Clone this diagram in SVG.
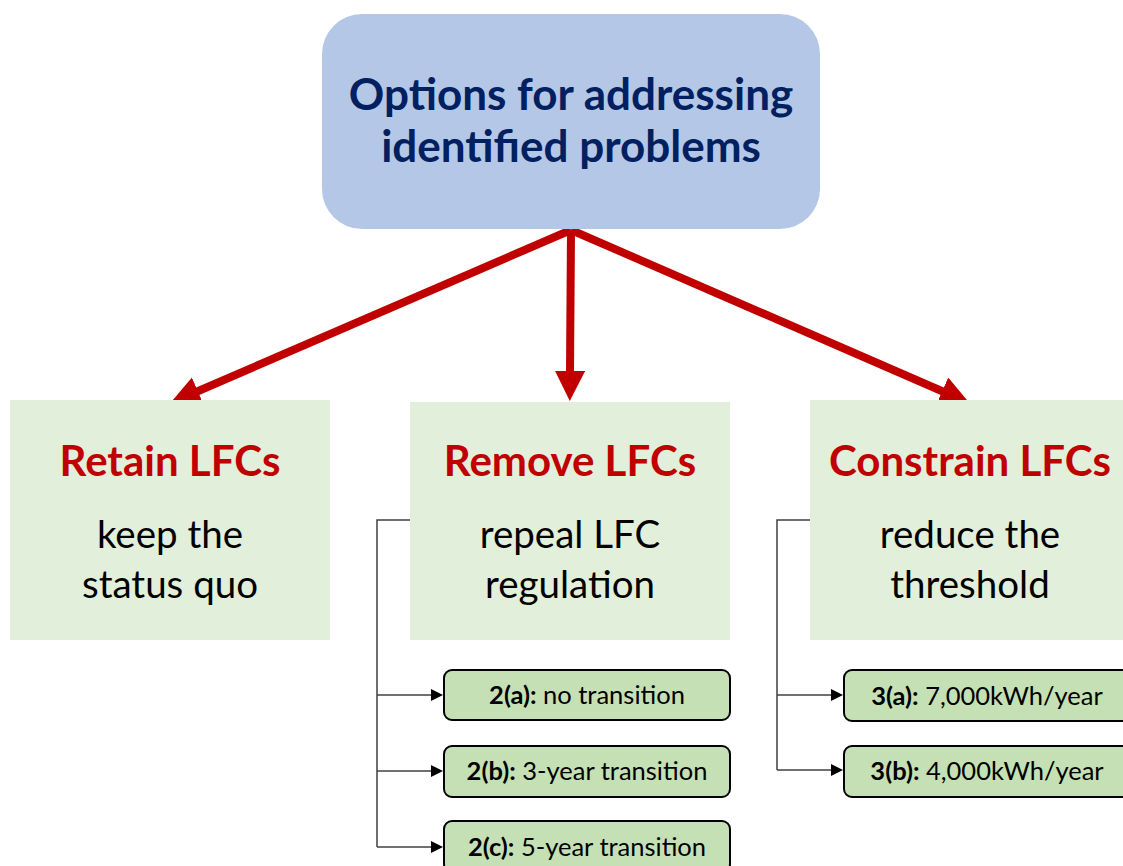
<svg xmlns="http://www.w3.org/2000/svg" width="1123" height="866" viewBox="0 0 1123 866">
<defs>
<style>
.t{font-family:Lato,"Open Sans","Liberation Sans",sans-serif;}
.main{font-size:44px;font-weight:bold;fill:#002060;text-anchor:middle;}
.head{font-size:42px;font-weight:bold;fill:#c00000;text-anchor:middle;}
.sub{font-size:38.5px;fill:#000;text-anchor:middle;}
.small{font-size:25.5px;fill:#000;text-anchor:middle;}
.big{fill:#e2efda;}
.opt{fill:#c5e0b4;stroke:#000;stroke-width:2;}
.red{stroke:#c00000;stroke-width:8;fill:none;marker-end:url(#rh);}
.blk{stroke:#404040;stroke-width:1.5;fill:none;}
.ba{stroke:#404040;stroke-width:1.5;fill:none;marker-end:url(#bh);}
</style>
<marker id="rh" markerUnits="userSpaceOnUse" markerWidth="32" markerHeight="32" refX="2" refY="15" orient="auto">
<path d="M0,0 L30,15 L0,30 z" fill="#c00000"/>
</marker>
<marker id="bh" markerUnits="userSpaceOnUse" markerWidth="14" markerHeight="14" refX="1" refY="6" orient="auto">
<path d="M0,0 L12,6 L0,12 z" fill="#000"/>
</marker>
</defs>
<rect width="1123" height="866" fill="#fff"/>
<g id="connectors">
<line class="red" x1="571" y1="230" x2="570" y2="373"/>
<line class="red" x1="571" y1="230" x2="196" y2="392"/>
<line class="red" x1="571" y1="230" x2="944" y2="392"/>
<polyline class="blk" points="410,520 377,520 377,847"/>
<line class="ba" x1="377" y1="695" x2="432" y2="695"/>
<line class="ba" x1="377" y1="771" x2="432" y2="771"/>
<line class="ba" x1="377" y1="847" x2="432" y2="847"/>
<polyline class="blk" points="810,520 777,520 777,770"/>
<line class="ba" x1="777" y1="695" x2="832" y2="695"/>
<line class="ba" x1="777" y1="770" x2="832" y2="770"/>
</g>
<g id="root">
<rect x="322" y="14" width="498" height="215" rx="40" fill="#b4c7e7"/>
<text class="t main" x="571" y="110">Options for addressing</text>
<text class="t main" x="571" y="162">identified problems</text>
</g>
<g id="retain">
<rect class="big" x="10" y="400" width="320" height="240"/>
<text class="t head" x="170" y="476">Retain LFCs</text>
<text class="t sub" x="170" y="548">keep the</text>
<text class="t sub" x="170" y="598">status quo</text>
</g>
<g id="remove">
<rect class="big" x="410" y="402" width="320" height="238"/>
<text class="t head" x="570" y="476">Remove LFCs</text>
<text class="t sub" x="570" y="548">repeal LFC</text>
<text class="t sub" x="570" y="598">regulation</text>
</g>
<g id="constrain">
<rect class="big" x="810" y="400" width="320" height="240"/>
<text class="t head" x="970" y="476">Constrain LFCs</text>
<text class="t sub" x="970" y="548">reduce the</text>
<text class="t sub" x="970" y="598">threshold</text>
</g>
<g id="opt2a">
<rect class="opt" x="444" y="670" width="286" height="50" rx="8"/>
<text class="t small" x="587" y="704"><tspan font-weight="bold">2(a):</tspan> no transition</text>
</g>
<g id="opt2b">
<rect class="opt" x="444" y="746" width="286" height="51" rx="8"/>
<text class="t small" x="587" y="780"><tspan font-weight="bold">2(b):</tspan> 3-year transition</text>
</g>
<g id="opt2c">
<rect class="opt" x="444" y="821" width="286" height="51" rx="8"/>
<text class="t small" x="587" y="856"><tspan font-weight="bold">2(c):</tspan> 5-year transition</text>
</g>
<g id="opt3a">
<rect class="opt" x="844" y="670" width="286" height="51" rx="8"/>
<text class="t small" x="987" y="705"><tspan font-weight="bold">3(a):</tspan> 7,000kWh/year</text>
</g>
<g id="opt3b">
<rect class="opt" x="844" y="746" width="286" height="51" rx="8"/>
<text class="t small" x="987" y="780"><tspan font-weight="bold">3(b):</tspan> 4,000kWh/year</text>
</g>
</svg>
